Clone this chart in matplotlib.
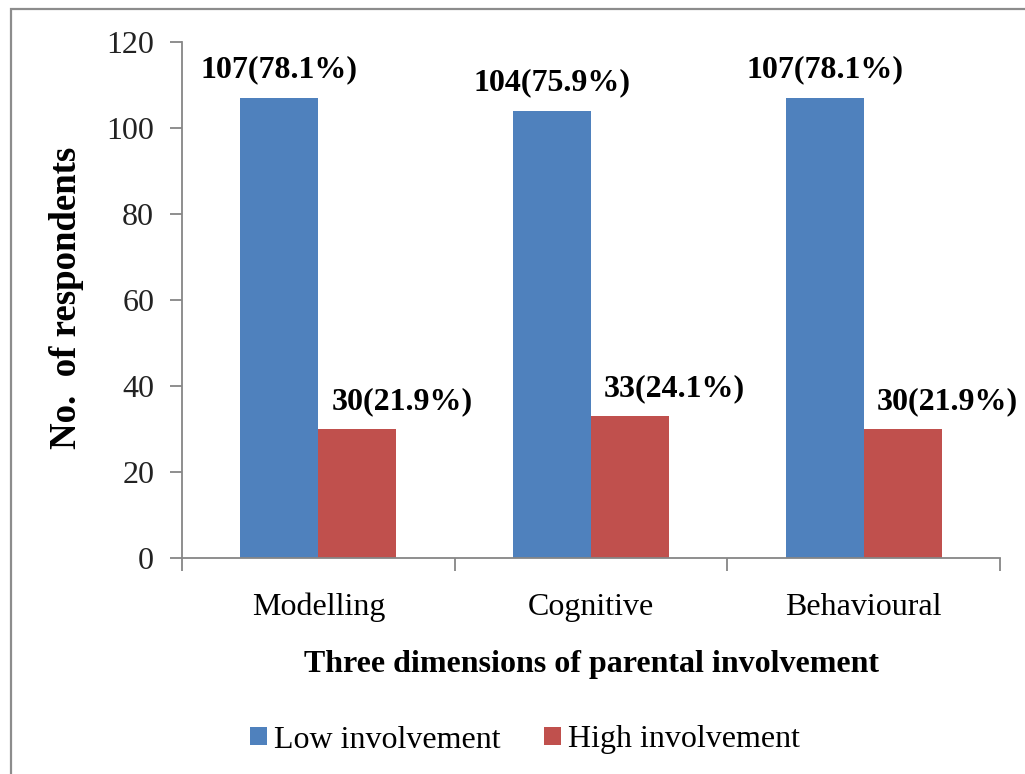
import matplotlib.pyplot as plt
import numpy as np
from matplotlib.patches import Rectangle

plt.rcParams['font.family'] = ['Liberation Serif', 'DejaVu Serif']

# Data
categories = ['Modelling', 'Cognitive', 'Behavioural']
low_counts = [107, 104, 107]
high_counts = [30, 33, 30]
low_labels = ['107(78.1%)', '104(75.9%)', '107(78.1%)']
high_labels = ['30(21.9%)', '33(24.1%)', '30(21.9%)']
series_names = ['Low involvement', 'High involvement']

blue = '#4F81BD'
red = '#C0504D'
spine_grey = '#868686'

W, H = 1025, 774
fig = plt.figure(figsize=(W / 100, H / 100), dpi=100)
ax = fig.add_axes([182 / W, 1 - 558 / H, (1000 - 182) / W, (558 - 42) / H])

x = np.arange(len(categories))
width = 0.286
b1 = ax.bar(x - width / 2, low_counts, width, color=blue, label=series_names[0])
b2 = ax.bar(x + width / 2, high_counts, width, color=red, label=series_names[1])

ax.set_xlim(-0.5, 2.5)
ax.set_ylim(0, 120)
ax.set_yticks(np.arange(0, 121, 20))

# category labels at centres, tick marks at the boundaries
ax.set_xticks(x)
ax.set_xticklabels(categories)
ax.set_xticks(np.arange(-0.5, 3, 1), minor=True)
ax.tick_params(axis='x', which='major', length=0, pad=25, labelsize=23)
ax.tick_params(axis='x', which='minor', length=9, width=1.3, color=spine_grey, direction='out')
ax.tick_params(axis='y', length=9, width=1.3, color=spine_grey, direction='out', pad=11,
               labelsize=23, labelcolor='#222222')

for side in ['top', 'right']:
    ax.spines[side].set_visible(False)
for side in ['left', 'bottom']:
    ax.spines[side].set_color(spine_grey)
    ax.spines[side].set_linewidth(1.3)

# value labels
for rect, txt in zip(b1, low_labels):
    ax.annotate(txt, (rect.get_x() + rect.get_width() / 2, rect.get_height()),
                xytext=(0, 20), textcoords='offset points', ha='center', va='center',
                fontsize=23, fontweight='bold')
for rect, txt in zip(b2, high_labels):
    ax.annotate(txt, (rect.get_x() + rect.get_width() / 2, rect.get_height()),
                xytext=(32, 20), textcoords='offset points', ha='center', va='center',
                fontsize=23, fontweight='bold')

fig.text(67 / W, 1 - 298 / H, 'No.  of respondents', rotation=90, ha='center', va='center',
         fontsize=26.5, fontweight='bold')
fig.text(591 / W, 1 - 672 / H, 'Three dimensions of parental involvement', ha='center',
         va='baseline', fontsize=23, fontweight='bold')

fig.legend(handles=[b1, b2], labels=series_names, loc='center', ncol=2,
           bbox_to_anchor=(525 / W, 1 - 740 / H), frameon=False, fontsize=23,
           handlelength=0.53, handleheight=0.5, handletextpad=0.22, columnspacing=1.38,
           borderaxespad=0, borderpad=0)

# chart area border (right and bottom edges fall outside the picture)
fig.patches.append(Rectangle((11 / W, -0.1), 1.2, 1 - 9 / H + 0.1, transform=fig.transFigure,
                             fill=False, edgecolor='#8c8c8c', linewidth=1.6))

fig.savefig('out.png', dpi=100)
